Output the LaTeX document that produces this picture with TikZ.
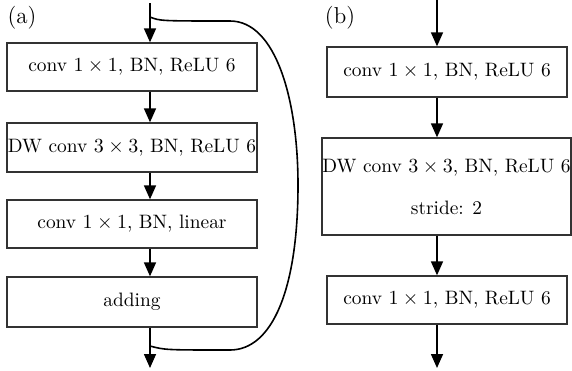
\documentclass[tikz,border=0pt]{standalone}
\usetikzlibrary{arrows.meta}
\begin{document}
\begin{tikzpicture}[x=0.5pt,y=-0.5pt,
    blk/.style={draw=black!80, line width=0.65pt, inner sep=0pt, font=\fontsize{9.7}{11.5}\selectfont},
    flow/.style={line width=0.8pt, -{Triangle[width=6pt,length=7pt]}},
    lbl/.style={font=\fontsize{11.5}{13}\selectfont}]
    \useasboundingbox (0,0) rectangle (572,370);
    
    % (a) block with shortcut
    \node[lbl] (la) at (22,18) {(a)};
    \node[blk, minimum width=125pt, minimum height=24pt] (a1) at (132,67) {conv $1\times1$, BN, ReLU 6};
    \node[blk, minimum width=125pt, minimum height=24.5pt] (a2) at (132,147.5) {DW conv $3\times3$, BN, ReLU 6};
    \node[blk, minimum width=125pt, minimum height=24pt] (a3) at (132,224) {conv $1\times1$, BN, linear};
    \node[blk, minimum width=125pt, minimum height=25pt] (a4) at (132,302) {adding};
    \coordinate (ain) at (150,3);
    \coordinate (aout) at (150,368);
    \coordinate (asplit) at (150,17);
    \coordinate (amerge) at (150,346);
    \draw[flow] (ain) -- (a1.north -| ain);
    \draw[flow] (a1.south -| ain) -- (a2.north -| ain);
    \draw[flow] (a2.south -| ain) -- (a3.north -| ain);
    \draw[flow] (a3.south -| ain) -- (a4.north -| ain);
    \draw[flow] (a4.south -| ain) -- (aout);
    \draw[line width=0.8pt] (asplit) .. controls (160,21) .. (230,21) .. controls (276,21) and (298,100) .. (298,185) .. controls (298,290) and (272,350) .. (230,350) .. controls (165,350) .. (amerge);
    
    % (b) block with stride 2
    \node[lbl] (lb) at (340,18) {(b)};
    \node[blk, minimum width=120pt, minimum height=25pt] (b1) at (447,72) {conv $1\times1$, BN, ReLU 6};
    \node[blk, minimum width=124.5pt, minimum height=48.5pt, align=center] (b2) at (446.5,186.5) {DW conv $3\times3$, BN, ReLU 6\\[9.5pt]stride: 2};
    \node[blk, minimum width=120pt, minimum height=24pt] (b3) at (447,300) {conv $1\times1$, BN, ReLU 6};
    \coordinate (bin) at (437,0);
    \coordinate (bout) at (437,368);
    \draw[flow] (bin) -- (b1.north -| bin);
    \draw[flow] (b1.south -| bin) -- (b2.north -| bin);
    \draw[flow] (b2.south -| bin) -- (b3.north -| bin);
    \draw[flow] (b3.south -| bin) -- (bout);
\end{tikzpicture}
\end{document}
